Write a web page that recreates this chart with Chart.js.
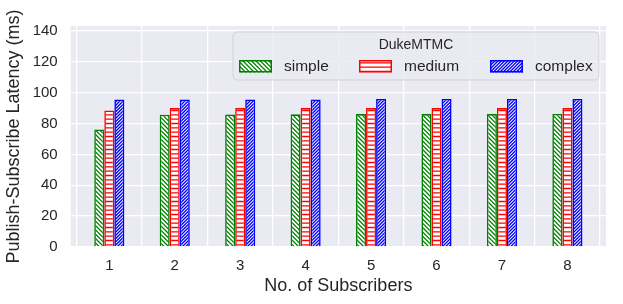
<!DOCTYPE html>
<html>
<head>
<meta charset="utf-8">
<script src="https://cdn.jsdelivr.net/npm/chart.js@4.4.1/dist/chart.umd.min.js"></script>
<style>
  body { margin: 0; background: #fff; }
</style>
</head>
<body>
<canvas id="myChart" width="623" height="304"></canvas>
<script>
/* data */
const subscribers = [1, 2, 3, 4, 5, 6, 7, 8];
const simpleLatency = [76.2, 85.7, 85.8, 86.0, 86.1, 86.1, 86.1, 86.2];
const mediumLatency = [88.5, 90.0, 90.0, 90.0, 90.0, 90.0, 90.0, 90.0];
const complexLatency = [95.5, 95.5, 95.6, 95.6, 95.9, 95.9, 95.9, 95.9];
const yTicks = [0, 20, 40, 60, 80, 100, 120, 140];
const seriesNames = ['simple', 'medium', 'complex'];
const legendTitle = 'DukeMTMC';

const FONT = "'Liberation Sans', Arial, sans-serif";
const TEXT = '#262626';
const BG = '#EAEAF2';

// hatch tiles like matplotlib's '\\', '-' and '/'
function hatch(color, kind, size, lines) {
  const c = document.createElement('canvas');
  c.width = size;
  c.height = size;
  const g = c.getContext('2d');
  g.fillStyle = '#fff';
  g.fillRect(0, 0, size, size);
  g.strokeStyle = color;
  g.lineWidth = 1.3;
  const step = size / lines;
  g.beginPath();
  for (let k = -lines; k <= lines; k++) {
    const o = k * step;
    if (kind === '-') {
      if (k >= 0 && k < lines) {
        g.moveTo(0, o + step / 2);
        g.lineTo(size, o + step / 2);
      }
    } else if (kind === '\\') {
      g.moveTo(o - 1, -1);
      g.lineTo(o + size + 1, size + 1);
    } else {
      g.moveTo(o - 1, size + 1);
      g.lineTo(o + size + 1, -1);
    }
  }
  g.stroke();
  return g.createPattern(c, 'repeat');
}

const colors = ['#008000', '#ff0000', '#0000ff'];
const patterns = [
  hatch(colors[0], '\\', 13, 3),
  hatch(colors[1], '-', 13, 3),
  hatch(colors[2], '/', 13, 4)
];
const values = [simpleLatency, mediumLatency, complexLatency];

const datasets = seriesNames.map((name, i) => ({
  label: name,
  data: subscribers.map((s, j) => ({ x: s, y: values[i][j] })),
  backgroundColor: patterns[i],
  borderColor: colors[i],
  borderWidth: 1.6,
  categoryPercentage: 0.46,
  barPercentage: 1.0
}));

// grey plot background
const plotBg = {
  id: 'plotBg',
  beforeDraw(chart) {
    const { ctx, chartArea: a } = chart;
    ctx.save();
    ctx.fillStyle = BG;
    ctx.fillRect(a.left, a.top, a.right - a.left, a.bottom - a.top);
    ctx.restore();
  }
};

// legend box inside the plot, upper right
const legendBox = {
  id: 'legendBox',
  afterDatasetsDraw(chart) {
    const { ctx, chartArea: a } = chart;
    const right = a.right - 7;
    const top = a.top + 6;
    const w = 366, h = 48;
    const left = right - w;
    ctx.save();
    ctx.beginPath();
    ctx.roundRect(left, top, w, h, 4);
    ctx.fillStyle = 'rgba(234,234,242,0.8)';
    ctx.fill();
    ctx.strokeStyle = 'rgba(204,204,204,0.8)';
    ctx.lineWidth = 1;
    ctx.stroke();

    ctx.fillStyle = TEXT;
    ctx.textAlign = 'center';
    ctx.textBaseline = 'middle';
    ctx.font = '14px ' + FONT;
    ctx.fillText(legendTitle, left + w / 2, top + 13);

    const items = [6, 126, 257];
    ctx.font = '15.5px ' + FONT;
    ctx.textAlign = 'left';
    chart.data.datasets.forEach((ds, i) => {
      const x = left + items[i];
      const y = top + 34;
      ctx.fillStyle = ds.backgroundColor;
      ctx.fillRect(x, y - 6, 33, 12.5);
      ctx.strokeStyle = ds.borderColor;
      ctx.lineWidth = 1.5;
      ctx.strokeRect(x + 0.75, y - 5.25, 31.5, 11);
      ctx.fillStyle = TEXT;
      ctx.fillText(ds.label, x + 45, y + 1);
    });
    ctx.restore();
  }
};

const myChart = new Chart(document.getElementById('myChart'), {
  type: 'bar',
  data: { datasets: datasets },
  options: {
    responsive: false,
    animation: false,
    devicePixelRatio: 1,
    layout: { padding: { top: 26, right: 17, left: 0, bottom: 0 } },
    plugins: {
      legend: { display: false },
      tooltip: { enabled: false }
    },
    scales: {
      x: {
        type: 'linear',
        offset: false,
        min: 0.41,
        max: 8.59,
        afterBuildTicks: (scale) => {
          scale.ticks = subscribers.map(v => ({ value: v }));
        },
        afterFit: (scale) => { scale.height = 57; },
        grid: { color: '#ffffff', lineWidth: 1.3, drawTicks: false },
        border: { display: false },
        ticks: {
          color: TEXT,
          font: { family: FONT, size: 15 },
          padding: 10,
          callback: (v) => String(v)
        },
        title: {
          display: true,
          text: 'No. of Subscribers',
          color: TEXT,
          font: { family: FONT, size: 18 },
          padding: { top: 0, bottom: 7 }
        }
      },
      y: {
        min: 0,
        max: 143.2,
        afterBuildTicks: (scale) => {
          scale.ticks = yTicks.map(v => ({ value: v }));
        },
        afterFit: (scale) => { scale.width = 70.7; },
        grid: { color: '#ffffff', lineWidth: 1.3, drawTicks: false },
        border: { display: false },
        ticks: {
          color: TEXT,
          font: { family: FONT, size: 15 },
          padding: 13
        },
        title: {
          display: true,
          text: 'Publish-Subscribe Latency (ms)',
          color: TEXT,
          font: { family: FONT, size: 18 },
          padding: { top: 3, bottom: 0 }
        }
      }
    }
  },
  plugins: [plotBg, legendBox]
});
</script>
</body>
</html>
